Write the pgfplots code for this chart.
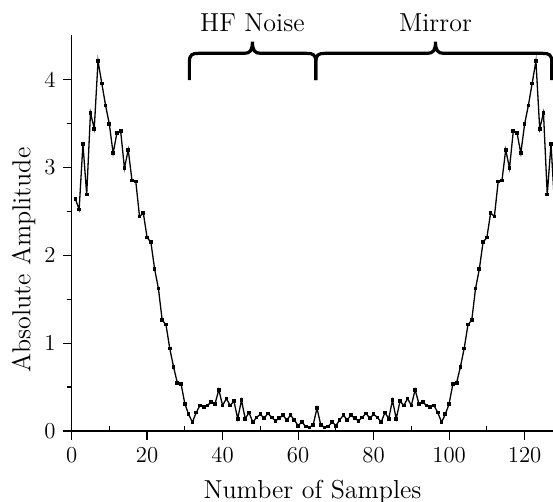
\documentclass[border=0pt]{standalone}
\usepackage{fontspec}
\usepackage{pgfplots}
\pgfplotsset{compat=1.18}
\begin{document}
\begin{tikzpicture}[font=\fontsize{13}{15.6}\selectfont]
\begin{axis}[
 scale only axis, width=241.6pt, height=197.75pt,
 xmin=0, xmax=128, ymin=0, ymax=4.5,
 axis x line*=bottom, axis y line*=left,
 axis line style={line width=0.75pt},
 tick align=outside,
 xtick={0,20,...,120}, ytick={0,1,2,3,4},
 minor x tick num=1, minor y tick num=1,
 major tick length=4.5pt, minor tick length=2.5pt,
 tick style={line width=0.6pt, black},
 minor x tick style={yshift=2.5pt},
 tick label style={font=\fontsize{11.4}{13}\selectfont},
 /pgf/number format/assume math mode=true,
 xlabel={Number of Samples}, ylabel={Absolute Amplitude},
 every axis x label/.style={at={(axis description cs:0.4985,-0.1535)}, anchor=center},
 every axis y label/.style={at={(axis description cs:-0.0993,0.432)}, anchor=center, rotate=90},
 clip=false,
]
\addplot[black, line width=0.65pt, mark=square*, mark size=0.6pt] coordinates {
(1,2.64)(2,2.52)(3,3.265)(4,2.69)(5,3.62)(6,3.44)(7,4.21)(8,3.955)(9,3.705)(10,3.49)
(11,3.16)(12,3.39)(13,3.41)(14,2.99)(15,3.20)(16,2.85)(17,2.84)(18,2.44)(19,2.48)(20,2.20)
(21,2.15)(22,1.84)(23,1.62)(24,1.26)(25,1.21)(26,0.94)(27,0.73)(28,0.55)(29,0.535)(30,0.31)
(31,0.19)(32,0.10)(33,0.21)(34,0.29)(35,0.27)(36,0.29)(37,0.33)(38,0.31)(39,0.47)(40,0.29)
(41,0.37)(42,0.29)(43,0.34)(44,0.14)(45,0.35)(46,0.14)(47,0.21)(48,0.10)(49,0.155)(50,0.19)
(51,0.145)(52,0.20)(53,0.155)(54,0.115)(55,0.145)(56,0.18)(57,0.125)(58,0.18)(59,0.125)(60,0.06)
(61,0.105)(62,0.05)(63,0.04)(64,0.07)(65,0.26)
(66,0.07)(67,0.04)(68,0.05)(69,0.105)(70,0.06)(71,0.125)(72,0.18)(73,0.125)(74,0.18)(75,0.145)
(76,0.115)(77,0.155)(78,0.20)(79,0.145)(80,0.19)(81,0.155)(82,0.10)(83,0.21)(84,0.14)(85,0.35)
(86,0.14)(87,0.34)(88,0.29)(89,0.37)(90,0.29)(91,0.47)(92,0.31)(93,0.33)(94,0.29)(95,0.27)
(96,0.29)(97,0.21)(98,0.10)(99,0.19)(100,0.31)(101,0.535)(102,0.55)(103,0.73)(104,0.94)(105,1.21)
(106,1.26)(107,1.62)(108,1.84)(109,2.15)(110,2.20)(111,2.48)(112,2.44)(113,2.84)(114,2.85)(115,3.20)
(116,2.99)(117,3.41)(118,3.39)(119,3.16)(120,3.49)(121,3.705)(122,3.955)(123,4.21)(124,3.44)(125,3.62)
(126,2.69)(127,3.265)(128,2.52)
};
\draw[line width=1.6pt] (axis cs:31.2,3.993) -- (axis cs:31.2,4.20) .. controls (axis cs:31.2,4.28) and (axis cs:31.9,4.297) .. (axis cs:33.6,4.297) -- (axis cs:45.7,4.297) .. controls (axis cs:47.3,4.297) and (axis cs:47.9,4.33) .. (axis cs:47.9,4.429) .. controls (axis cs:47.9,4.33) and (axis cs:48.5,4.297) .. (axis cs:50.1,4.297) -- (axis cs:62.3,4.297) .. controls (axis cs:64.0,4.297) and (axis cs:64.7,4.28) .. (axis cs:64.7,4.20) -- (axis cs:64.7,3.993);
\draw[line width=1.6pt] (axis cs:64.7,3.993) -- (axis cs:64.7,4.20) .. controls (axis cs:64.7,4.28) and (axis cs:65.4,4.297) .. (axis cs:67.1,4.297) -- (axis cs:94.2,4.297) .. controls (axis cs:95.8,4.297) and (axis cs:96.4,4.33) .. (axis cs:96.4,4.429) .. controls (axis cs:96.4,4.33) and (axis cs:97.0,4.297) .. (axis cs:98.6,4.297) -- (axis cs:124.8,4.297) .. controls (axis cs:126.5,4.297) and (axis cs:127.2,4.28) .. (axis cs:127.2,4.20) -- (axis cs:127.2,3.993);
\node[anchor=base] at (axis cs:47.9,4.543) {HF Noise};
\node[anchor=base] at (axis cs:96.4,4.543) {Mirror};
\end{axis}
\pgfresetboundingbox
\path[use as bounding box] (-35.8pt,-35.5pt) rectangle (240.7pt,215.5pt);
\end{tikzpicture}
\end{document}
